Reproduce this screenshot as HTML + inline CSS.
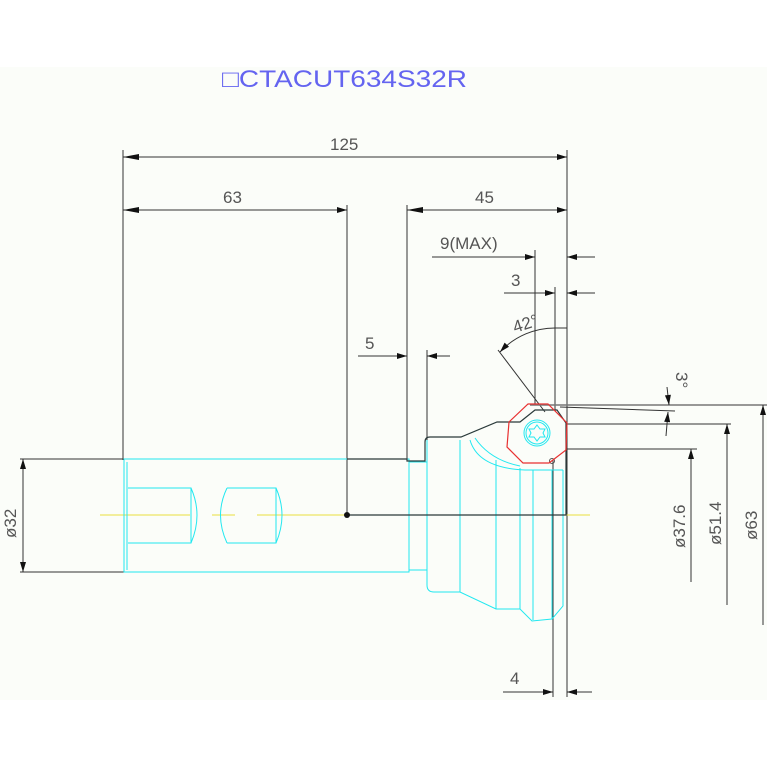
<!DOCTYPE html>
<html><head><meta charset="utf-8"><style>
html,body{margin:0;padding:0;background:#fff}
svg{display:block}
text{font-family:"Liberation Sans",sans-serif;fill:#555}
</style></head><body>
<svg width="767" height="767" viewBox="0 0 767 767" xmlns="http://www.w3.org/2000/svg">
<defs>
<marker id="a" viewBox="0 0 10 6" refX="10" refY="3" markerWidth="16" markerHeight="6" markerUnits="userSpaceOnUse" orient="auto"><path d="M0,0L10,3L0,6z" fill="#111"/></marker>
</defs>
<rect x="0" y="67" width="767" height="633" fill="#fbfdf9"/>
<text x="222" y="87" font-size="24" style="fill:#6464f0" textLength="245" lengthAdjust="spacingAndGlyphs">□CTACUT634S32R</text>

<g stroke="#333" stroke-width="1" fill="none">
<line x1="123" y1="150" x2="123" y2="460"/>
<line x1="567" y1="150" x2="567" y2="697"/>
<line x1="347" y1="205" x2="347" y2="516"/>
<line x1="407" y1="205" x2="407" y2="460"/>
<line x1="535" y1="250" x2="535" y2="405"/>
<line x1="555" y1="287" x2="555" y2="410"/>
<line x1="427" y1="350" x2="427" y2="440"/>
<line x1="553" y1="460" x2="553" y2="697"/>
<line x1="123" y1="157" x2="567" y2="157" marker-end="url(#a)"/>
<line x1="123" y1="210" x2="347" y2="210" marker-end="url(#a)"/>
<line x1="407" y1="210" x2="567" y2="210" marker-end="url(#a)"/>
<line x1="432" y1="257" x2="535" y2="257" marker-end="url(#a)"/>
<line x1="595" y1="257" x2="567" y2="257" marker-end="url(#a)"/>
<line x1="504" y1="293" x2="555" y2="293" marker-end="url(#a)"/>
<line x1="595" y1="293" x2="567" y2="293" marker-end="url(#a)"/>
<line x1="358" y1="356" x2="407" y2="356" marker-end="url(#a)"/>
<line x1="450" y1="356" x2="427" y2="356" marker-end="url(#a)"/>
<line x1="503" y1="692" x2="553" y2="692" marker-end="url(#a)"/>
<line x1="592" y1="692" x2="567" y2="692" marker-end="url(#a)"/>
<path d="M557,328 A75,75 0 0 0 500,352" marker-end="url(#a)"/>
<line x1="557" y1="328" x2="567" y2="328"/>
<line x1="498" y1="350" x2="545" y2="412"/>
<line x1="530" y1="405" x2="767" y2="405" stroke="#777" stroke-width="1.5"/>
<line x1="560" y1="407" x2="675" y2="411"/>
<line x1="667" y1="387" x2="669" y2="405" marker-end="url(#a)"/>
<line x1="666" y1="436" x2="668" y2="412" marker-end="url(#a)"/>
<line x1="567" y1="424" x2="731" y2="424"/>
<line x1="567" y1="449" x2="697" y2="449"/>
<line x1="763" y1="625" x2="763" y2="405" marker-end="url(#a)"/>
<line x1="727" y1="605" x2="727" y2="424" marker-end="url(#a)"/>
<line x1="691" y1="582" x2="691" y2="449" marker-end="url(#a)"/>
<line x1="20" y1="459" x2="127" y2="459"/>
<line x1="20" y1="572" x2="127" y2="572"/>
<line x1="23" y1="515" x2="23" y2="459" marker-end="url(#a)"/>
<line x1="23" y1="515" x2="23" y2="572" marker-end="url(#a)"/>
</g>
<path d="M123,157l16,-3v6z M123,210l16,-3v6z M407,210l16,-3v6z" fill="#111"/>

<g font-size="17">
<text x="330" y="150">125</text>
<text x="223" y="203">63</text>
<text x="475" y="203">45</text>
<text x="440" y="249">9(MAX)</text>
<text x="511" y="286">3</text>
<text x="365" y="349">5</text>
<text x="510" y="684">4</text>
<text x="515" y="333" transform="rotate(-18 515 333)">42°</text>
<text x="676" y="372" transform="rotate(90 676 372)">3°</text>
<text transform="translate(16,538) rotate(-90)">ø32</text>
<text transform="translate(685,548) rotate(-90)">ø37.6</text>
<text transform="translate(721,545) rotate(-90)">ø51.4</text>
<text transform="translate(757,540) rotate(-90)">ø63</text>
</g>

<g stroke="#e8e040" stroke-width="1">
<line x1="100" y1="515" x2="190" y2="515"/>
<line x1="212" y1="515" x2="235" y2="515"/>
<line x1="257" y1="515" x2="347" y2="515"/>
<line x1="565" y1="515" x2="590" y2="515"/>
</g>

<g stroke="#22e8f0" stroke-width="1" fill="none">
<rect x="124" y="459" width="285" height="113"/>
<line x1="127" y1="462" x2="127" y2="570"/>
<path d="M128,488H191V543H128M191,488Q203,515 191,543"/>
<path d="M227,488H276V543H227M227,488Q214,515 227,543M276,488Q288,515 276,543"/>
<path d="M409,462H427V570H409"/>
<path d="M427,440V585Q427,592 434,592H460L496,609H520L532,621L552,619L563,606V470"/>
<line x1="460" y1="440" x2="460" y2="592"/>
<line x1="496" y1="460" x2="496" y2="609"/>
<line x1="520" y1="468" x2="520" y2="609"/>
<line x1="533" y1="470" x2="533" y2="620"/>
<line x1="552" y1="470" x2="552" y2="619"/>
<path d="M470,440Q478,468 525,470H563"/>
<path d="M475,438Q490,460 520,466"/>
<circle cx="537" cy="433" r="13"/>
<circle cx="537" cy="433" r="11"/>
<path d="M537,425l3,4 5,0 -2,4 2,4 -5,0 -3,4 -3,-4 -5,0 2,-4 -2,-4 5,0z"/>
</g>

<g stroke="#2a3a3a" stroke-width="1.2" fill="none">
<path d="M347,459H407V461H425V442Q425,437 430,437H461L497,422H520L535,410H557L566,423V515H347"/>
</g>
<circle cx="347" cy="515" r="3" fill="#111"/>
<circle cx="552" cy="461" r="2.5" fill="none" stroke="#555"/>
<path d="M528,404H548L567,423L566,450L549,463L523,463L507,447L509,422Z" fill="none" stroke="#e83030" stroke-width="1.2"/>
</svg>
</body></html>
